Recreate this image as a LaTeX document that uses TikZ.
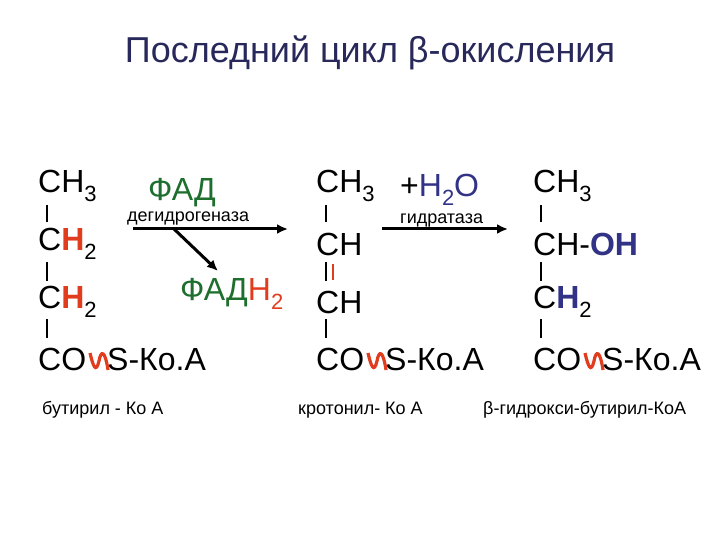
\documentclass[tikz,border=0pt]{standalone}
\usepackage{fontspec}
\usetikzlibrary{arrows.meta}
\setmainfont{Liberation Sans}
\definecolor{rd}{RGB}{225,60,30}
\definecolor{gr}{RGB}{30,110,45}
\definecolor{bl}{RGB}{50,50,135}
\newcommand\lowidx[1]{\raisebox{-0.55ex}{\fontsize{22}{24}\selectfont #1}}
\begin{document}
\begin{tikzpicture}[x=1pt,y=-1pt,
  chem/.style={anchor=west,inner sep=0pt,font=\fontsize{32}{36}\selectfont},
  small/.style={anchor=west,inner sep=0pt,font=\fontsize{18}{20}\selectfont},
  bond/.style={line width=2.2pt},
  arr/.style={line width=3pt,-{Latex[length=11pt,width=10pt]}},
  wave/.style={rd,line width=3.2pt}]
\useasboundingbox (0,0) rectangle (720,540);
\node[anchor=center,inner sep=0pt,font=\fontsize{36}{40}\selectfont,text={rgb,255:red,40;green,40;blue,90}] (title) at (370,53) {Последний цикл β-окисления};
% column 1
\node[chem] (a1) at (38,186) {CH\lowidx{3}};
\node[chem] (a2) at (38,244) {C\textcolor{rd}{\textbf{H}}\lowidx{2}};
\node[chem] (a3) at (38,302) {C\textcolor{rd}{\textbf{H}}\lowidx{2}};
\node[chem] (a4) at (38,359) {CO\hspace{21pt}S-Ко.А};
\draw[bond] (47,205) -- (47,222);
\draw[bond] (47,262) -- (47,281);
\draw[bond] (47,319) -- (47,338);
\draw[wave] (90,353) .. controls (93,366) and (96,374) .. (99,361) .. controls (101,350) and (105,350) .. (108,370);
% column 2
\node[chem] (b1) at (316,186) {CH\lowidx{3}};
\node[chem] (b2) at (316,244) {CH};
\node[chem] (b3) at (316,302) {CH};
\node[chem] (b4) at (316,359) {CO\hspace{21pt}S-Ко.А};
\draw[bond] (326,205) -- (326,222);
\draw[bond] (326,262) -- (326,281);
\draw[bond,rd] (333,264) -- (333,280);
\draw[bond] (326,319) -- (326,338);
\draw[wave] (368,353) .. controls (371,366) and (374,374) .. (377,361) .. controls (379,350) and (383,350) .. (386,370);
% column 3
\node[chem] (c1) at (533,186) {CH\lowidx{3}};
\node[chem] (c2) at (533,244) {CH-\textcolor{bl}{\textbf{OH}}};
\node[chem] (c3) at (533,302) {C\textcolor{bl}{\textbf{H}}\lowidx{2}};
\node[chem] (c4) at (533,359) {CO\hspace{21pt}S-Ко.А};
\draw[bond] (541,205) -- (541,222);
\draw[bond] (541,262) -- (541,281);
\draw[bond] (541,319) -- (541,338);
\draw[wave] (585,353) .. controls (588,366) and (591,374) .. (594,361) .. controls (596,350) and (600,350) .. (603,370);
% reaction 1
\node[chem,text=gr] (fad) at (148,193) {ФАД};
\node[small] (dh) at (127,219) {дегидрогеназа};
\coordinate (r1s) at (133,229);
\coordinate (r1e) at (288,229);
\draw[arr] (r1s) -- (r1e);
\coordinate (d1) at (174,229);
\coordinate (d2) at (218,271);
\draw[arr] (d1) -- (d2);
\node[chem,text=gr] (fadh) at (180,294) {ФАД\textcolor{rd}{H\lowidx{2}}};
% reaction 2
\node[chem] (h2o) at (400,190) {+\textcolor{bl}{H\lowidx{2}O}};
\node[small] (hd) at (400,221) {гидратаза};
\coordinate (r2s) at (382,229);
\coordinate (r2e) at (508,229);
\draw[arr] (r2s) -- (r2e);
% labels
\node[small] (l1) at (42,410) {бутирил - Ко А};
\node[small] (l2) at (298,410) {кротонил- Ко А};
\node[small] (l3) at (483,410) {β-гидрокси-бутирил-КоА};
\end{tikzpicture}
\end{document}
